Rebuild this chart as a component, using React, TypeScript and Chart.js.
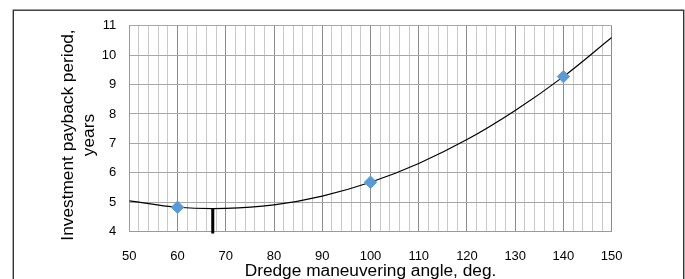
import React, { useEffect, useRef } from 'react';
import { Chart, registerables } from 'chart.js';

Chart.register(...registerables);

// Measured points
const angleDeg = [60, 100, 140];
const paybackYears = [4.83, 5.68, 9.27];
// Trend curve
const trendAngle = [50, 60, 70, 80, 90, 100, 110, 120, 130, 140, 150];
const trendYears = [5.05, 4.83, 4.79, 4.91, 5.21, 5.68, 6.32, 7.13, 8.12, 9.27, 10.6];
// Optimum marker (vertical tick)
const optimumAngle = [67.3, 67.3];
const optimumYears = [4.78, 3.94];

const xTitle = 'Dredge maneuvering angle, deg.';
const yTitle = ['Investment payback period,', 'years'];

const FONT = "'Liberation Sans', Arial, sans-serif";

const framePlugin = {
  id: 'frameAndTitles',
  afterDraw(chart: any) {
    const ctx = chart.ctx as CanvasRenderingContext2D;
    const area = chart.chartArea;
    ctx.save();
    // outer frame
    ctx.strokeStyle = '#333333';
    ctx.lineWidth = 1.4;
    ctx.strokeRect(13.3, 10.2, 670.4, 300);
    // titles
    ctx.fillStyle = '#000000';
    ctx.font = `17.3px ${FONT}`;
    ctx.textAlign = 'center';
    ctx.textBaseline = 'alphabetic';
    const cx = (area.left + area.right) / 2;
    ctx.fillText(xTitle, cx, 276);
    const cy = 135;
    const baseX = [73, 94];
    yTitle.forEach((line, i) => {
      ctx.save();
      ctx.translate(baseX[i], cy);
      ctx.rotate(-Math.PI / 2);
      ctx.fillText(line, 0, 0);
      ctx.restore();
    });
    ctx.restore();
  },
};

export default function App() {
  const ref = useRef<HTMLCanvasElement | null>(null);

  useEffect(() => {
    if (!ref.current) return;
    const chart = new Chart(ref.current, {
      type: 'scatter',
      data: {
        datasets: [
          {
            data: angleDeg.map((x, i) => ({ x, y: paybackYears[i] })),
            pointStyle: 'rectRot',
            pointRadius: 6.2,
            backgroundColor: '#5B9BD5',
            borderColor: '#5B9BD5',
            borderWidth: 1,
            showLine: false,
          },
          {
            data: optimumAngle.map((x, i) => ({ x, y: optimumYears[i] })),
            showLine: true,
            borderColor: '#000000',
            borderWidth: 3,
            pointRadius: 0,
            clip: false,
          } as any,
          {
            data: trendAngle.map((x, i) => ({ x, y: trendYears[i] })),
            showLine: true,
            borderColor: '#000000',
            borderWidth: 1.2,
            pointRadius: 0,
            tension: 0.4,
          },
        ],
      },
      options: {
        animation: false,
        responsive: false,
        devicePixelRatio: 1,
        layout: { padding: { left: 0, right: 73.3, top: 25.7, bottom: 0 } },
        plugins: {
          legend: { display: false },
          tooltip: { enabled: false },
        },
        scales: {
          x: {
            type: 'linear',
            min: 50,
            max: 150,
            afterFit: (s: any) => {
              s.height = 47.3;
            },
            ticks: {
              stepSize: 2,
              maxTicksLimit: 60,
              autoSkip: false,
              maxRotation: 0,
              minRotation: 0,
              padding: 16.5,
              color: '#000000',
              font: { family: FONT, size: 13 },
              callback: (v: any) => (Math.round(v) % 10 === 0 ? String(Math.round(v)) : ''),
            },
            grid: {
              drawTicks: false,
              color: (c: any) => {
                const v = c.tick ? Math.round(c.tick.value) : 0;
                return v % 10 === 0 ? '#8a8a8a' : '#c8c8c8';
              },
              lineWidth: 1,
            },
            border: { color: '#9a9a9a' },
          },
          y: {
            type: 'linear',
            min: 4,
            max: 11,
            afterFit: (s: any) => {
              s.width = 129.3;
            },
            ticks: {
              stepSize: 1,
              padding: 13,
              color: '#000000',
              font: { family: FONT, size: 13 },
            },
            grid: {
              drawTicks: false,
              color: '#a6a6a6',
              lineWidth: 1,
            },
            border: { color: '#9a9a9a' },
          },
        },
      },
      plugins: [framePlugin],
    });
    return () => chart.destroy();
  }, []);

  return (
    <div style={{ position: 'absolute', left: 0, top: 0, width: 685, height: 279, background: '#ffffff' }}>
      <canvas ref={ref} width={685} height={279} style={{ display: 'block', width: 685, height: 279 }} />
    </div>
  );
}
